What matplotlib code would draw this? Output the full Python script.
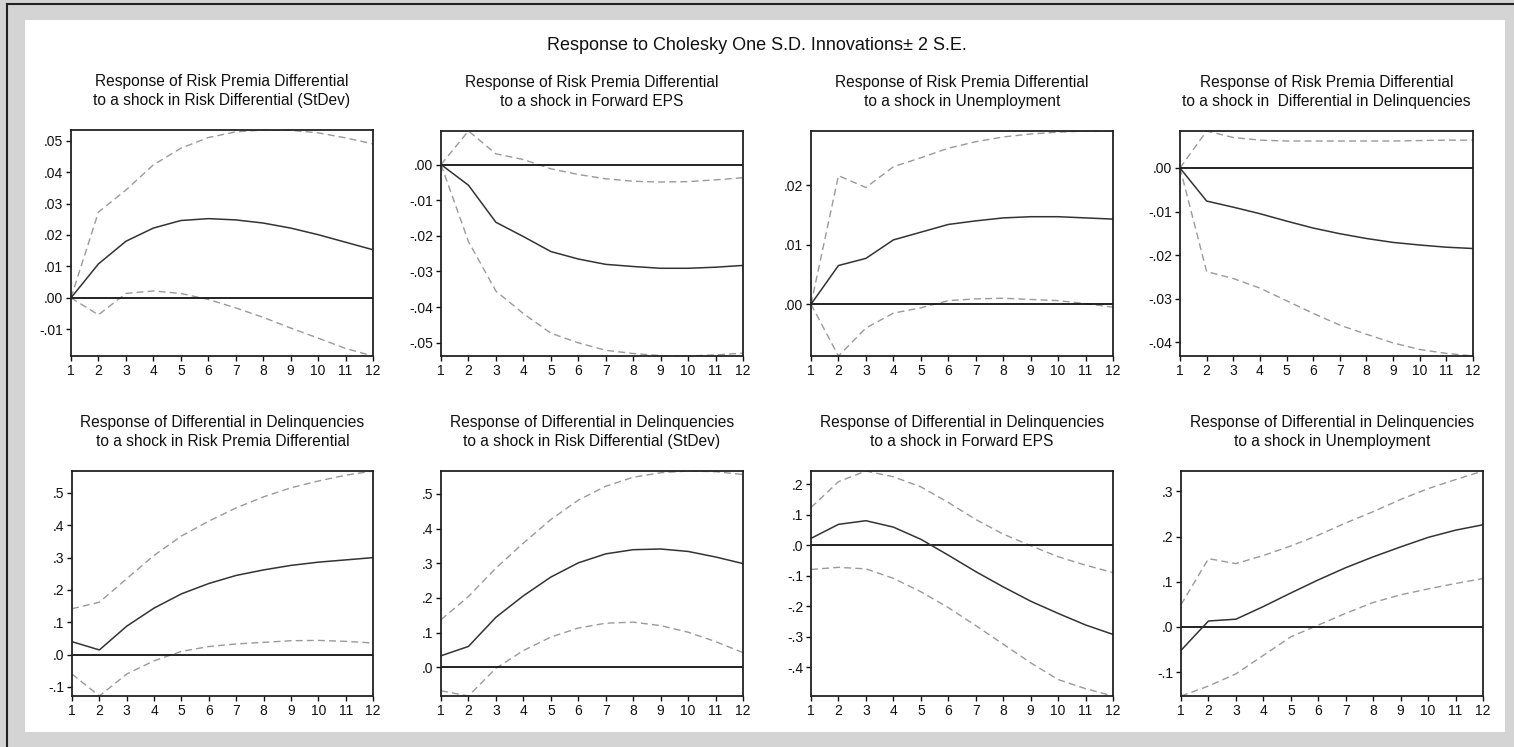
import numpy as np
import matplotlib
matplotlib.use("Agg")
import matplotlib.pyplot as plt
from matplotlib.lines import Line2D
from matplotlib.patches import Rectangle
from matplotlib.ticker import FuncFormatter, MultipleLocator

plt.rcParams['font.family'] = ['Liberation Sans', 'DejaVu Sans']

periods = list(range(1, 13))

titles = [
    "Response of Risk Premia Differential\nto a shock in Risk Differential (StDev)",
    "Response of Risk Premia Differential\nto a shock in Forward EPS",
    "Response of Risk Premia Differential\nto a shock in Unemployment",
    "Response of Risk Premia Differential\nto a shock in  Differential in Delinquencies",
    "Response of Differential in Delinquencies\nto a shock in Risk Premia Differential",
    "Response of Differential in Delinquencies\nto a shock in Risk Differential (StDev)",
    "Response of Differential in Delinquencies\nto a shock in Forward EPS",
    "Response of Differential in Delinquencies\nto a shock in Unemployment",
]

# impulse responses (solid) and +/- 2 S.E. bands (dashed)
irf_1 = [0, 0.0108, 0.0180, 0.0222, 0.0246, 0.0252, 0.0248, 0.0238, 0.0222, 0.0201, 0.0177, 0.0153]
up_1 = [0, 0.0273, 0.0343, 0.0423, 0.0476, 0.0510, 0.0528, 0.0534, 0.0533, 0.0525, 0.0509, 0.0490]
lo_1 = [0, -0.0054, 0.0014, 0.0022, 0.0014, -0.0005, -0.0032, -0.0062, -0.0096, -0.0128, -0.0161, -0.0185]

irf_2 = [0, -0.0058, -0.0162, -0.0202, -0.0244, -0.0265, -0.0280, -0.0286, -0.0291, -0.0291, -0.0288, -0.0283]
up_2 = [0, 0.0094, 0.0030, 0.0014, -0.0012, -0.0028, -0.0040, -0.0047, -0.0049, -0.0048, -0.0043, -0.0037]
lo_2 = [0, -0.0216, -0.0355, -0.0418, -0.0473, -0.0500, -0.0521, -0.0530, -0.0536, -0.0537, -0.0534, -0.0529]

irf_3 = [0, 0.0065, 0.0077, 0.0108, 0.0121, 0.0134, 0.0140, 0.0145, 0.0147, 0.0147, 0.0145, 0.0143]
up_3 = [0, 0.0216, 0.0196, 0.0231, 0.0246, 0.0262, 0.0273, 0.0281, 0.0286, 0.0289, 0.0291, 0.0291]
lo_3 = [0, -0.0087, -0.0040, -0.0015, -0.0006, 0.0006, 0.0009, 0.0010, 0.0008, 0.0006, 0.0001, -0.0005]

irf_4 = [0, -0.0076, -0.0090, -0.0105, -0.0122, -0.0138, -0.0151, -0.0162, -0.0171, -0.0177, -0.0182, -0.0185]
up_4 = [0, 0.0085, 0.0070, 0.0064, 0.0062, 0.0062, 0.0062, 0.0062, 0.0062, 0.0063, 0.0064, 0.0064]
lo_4 = [0, -0.0238, -0.0254, -0.0276, -0.0305, -0.0334, -0.0361, -0.0382, -0.0402, -0.0417, -0.0426, -0.0432]

irf_5 = [0.040, 0.0145, 0.088, 0.144, 0.188, 0.220, 0.245, 0.262, 0.276, 0.286, 0.293, 0.300]
up_5 = [0.142, 0.162, 0.235, 0.307, 0.367, 0.413, 0.454, 0.488, 0.516, 0.537, 0.555, 0.568]
lo_5 = [-0.060, -0.128, -0.060, -0.019, 0.010, 0.025, 0.033, 0.038, 0.043, 0.044, 0.041, 0.036]

irf_6 = [0.033, 0.060, 0.144, 0.206, 0.260, 0.301, 0.327, 0.339, 0.341, 0.334, 0.318, 0.299]
up_6 = [0.137, 0.204, 0.286, 0.358, 0.426, 0.482, 0.522, 0.548, 0.561, 0.566, 0.564, 0.556]
lo_6 = [-0.068, -0.083, -0.003, 0.048, 0.087, 0.113, 0.127, 0.130, 0.120, 0.101, 0.074, 0.042]

irf_7 = [0.022, 0.068, 0.080, 0.059, 0.019, -0.033, -0.087, -0.137, -0.184, -0.224, -0.262, -0.293]
up_7 = [0.123, 0.208, 0.243, 0.224, 0.191, 0.140, 0.084, 0.036, -0.002, -0.038, -0.066, -0.090]
lo_7 = [-0.080, -0.073, -0.078, -0.109, -0.153, -0.205, -0.264, -0.325, -0.386, -0.441, -0.471, -0.495]

irf_8 = [-0.052, 0.013, 0.017, 0.045, 0.075, 0.104, 0.131, 0.155, 0.177, 0.198, 0.214, 0.226]
up_8 = [0.049, 0.151, 0.140, 0.158, 0.179, 0.203, 0.230, 0.255, 0.282, 0.306, 0.326, 0.345]
lo_8 = [-0.153, -0.131, -0.104, -0.063, -0.022, 0.004, 0.030, 0.054, 0.071, 0.084, 0.096, 0.107]

tick_steps = [0.01, 0.01, 0.01, 0.01, 0.1, 0.1, 0.1, 0.1]
tick_decimals = [2, 2, 2, 2, 1, 1, 1, 1]

irfs = [irf_1, irf_2, irf_3, irf_4, irf_5, irf_6, irf_7, irf_8]
ups = [up_1, up_2, up_3, up_4, up_5, up_6, up_7, up_8]
los = [lo_1, lo_2, lo_3, lo_4, lo_5, lo_6, lo_7, lo_8]

W, H = 1514, 747
# axes boxes in pixels: left, right, top, bottom
boxes = [
    (71, 373, 130, 356), (441, 743, 131, 356), (811, 1113, 131, 356), (1180, 1473, 131, 356),
    (72, 373, 471, 696), (441, 743, 471, 696), (811, 1113, 471, 696), (1181, 1483, 471, 696),
]

fig = plt.figure(figsize=(W / 100, H / 100), dpi=100)
fig.patch.set_facecolor('#d4d4d4')
# white panel + window edges
fig.add_artist(Rectangle((25 / W, 1 - 732 / H), (1505 - 25) / W, (732 - 20) / H,
                         transform=fig.transFigure, facecolor='white', edgecolor='none', zorder=0))
fig.add_artist(Line2D([7 / W, 7 / W], [0, 1 - 4 / H], transform=fig.transFigure, color='#222222', lw=1.5))
fig.add_artist(Line2D([7 / W, 1], [1 - 4 / H, 1 - 4 / H], transform=fig.transFigure, color='#222222', lw=1.5))

fig.text(757 / W, 1 - 46 / H, "Response to Cholesky One S.D. Innovations\u00b1 2 S.E.",
         ha='center', va='center', fontsize=13, color='#111111')


def fmt_factory(dec):
    def fmt(v, pos):
        s = f"{v:.{dec}f}"
        if s.startswith("-0."):
            s = "-" + s[2:]
        elif s.startswith("0."):
            s = s[1:]
        if s in ("-.00", "-.0"):
            s = s[1:]
        return s
    return fmt


for i in range(8):
    l, r, t, b = boxes[i]
    ax = fig.add_axes([l / W, 1 - b / H, (r - l) / W, (b - t) / H])
    ax.plot(periods, ups[i], color='#9a9a9a', lw=1.0, dashes=(5, 3))
    ax.plot(periods, los[i], color='#9a9a9a', lw=1.0, dashes=(5, 3))
    ax.axhline(0, color='#111111', lw=1.3)
    ax.plot(periods, irfs[i], color='#333333', lw=1.1)
    allv = ups[i] + los[i] + irfs[i] + [0]
    ax.set_ylim(min(allv), max(allv))
    ax.set_xlim(1, 12)
    ax.set_xticks(periods)
    ax.yaxis.set_major_locator(MultipleLocator(tick_steps[i]))
    ax.yaxis.set_major_formatter(FuncFormatter(fmt_factory(tick_decimals[i])))
    ax.tick_params(direction='out', length=3.5, width=1, labelsize=10, pad=2, colors='#111111')
    for sp in ax.spines.values():
        sp.set_linewidth(1.3)
        sp.set_color('#222222')
    ax.set_title(titles[i], fontsize=11.2, pad=18, linespacing=1.3, color='#111111')

fig.savefig("out.png", dpi=100, facecolor=fig.get_facecolor())
